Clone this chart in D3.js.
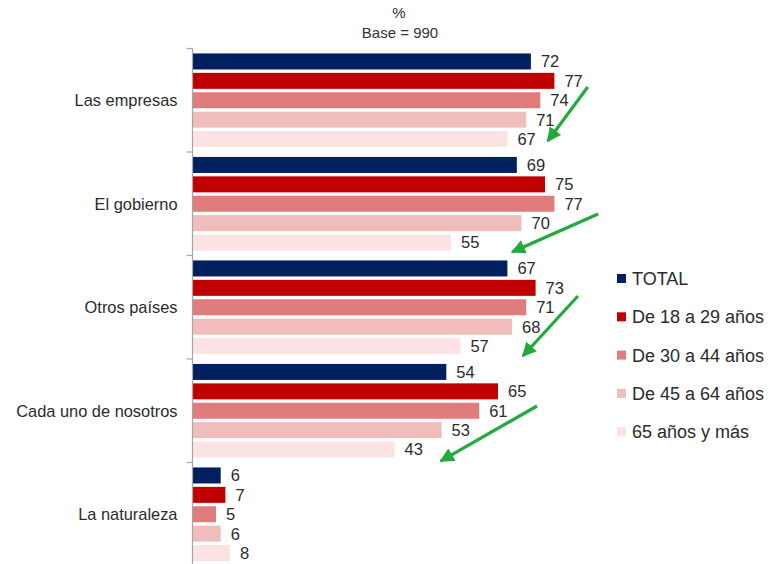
<!DOCTYPE html>
<html>
<head>
<meta charset="utf-8">
<script src="https://cdn.jsdelivr.net/npm/d3@7"></script>
<style>
  html, body { margin: 0; padding: 0; background: #fff; }
  svg { display: block; font-family: "Liberation Sans", Arial, sans-serif; }
</style>
</head>
<body>
<svg id="chart" width="770" height="564"></svg>
<script>
// Categories and age-group series (percent)
const categories = ["Las empresas", "El gobierno", "Otros países", "Cada uno de nosotros", "La naturaleza"];
const seriesNames = ["TOTAL", "De 18 a 29 años", "De 30 a 44 años", "De 45 a 64 años", "65 años y más"];
const total    = [72, 69, 67, 54, 6];
const age18_29 = [77, 75, 73, 65, 7];
const age30_44 = [74, 77, 71, 61, 5];
const age45_64 = [71, 70, 68, 53, 6];
const age65    = [67, 55, 57, 43, 8];
const seriesValues = [total, age18_29, age30_44, age45_64, age65];
const colors = ["#002060", "#c00000", "#e07c7c", "#f0bdbd", "#fbe3e3"];

// Trend arrows: [category index, start value, start fraction in group, end value, end fraction]
const arrows = [
  [0, 84.1, 0.372, 75.6, 0.894],
  [1, 86.3, 0.599, 68.0, 0.966],
  [2, 82.0, 0.391, 70.3, 0.971],
  [3, 73.3, 0.454, 52.8, 0.986]
];

const svg = d3.select("#chart");

const x = d3.scaleLinear().domain([0, 100]).range([192.5, 662.5]);
const y0 = d3.scaleBand().domain(categories).range([48.5, 566]).padding(0);
const y1 = d3.scaleBand().domain(seriesNames).range([0, y0.bandwidth()])
  .paddingInner(0.175).paddingOuter(0.255);

// Header
svg.append("text").attr("x", 399).attr("y", 18).attr("text-anchor", "middle")
  .attr("font-size", 15).attr("fill", "#333").text("%");
svg.append("text").attr("x", 400).attr("y", 37.5).attr("text-anchor", "middle")
  .attr("font-size", 15).attr("fill", "#333").text("Base = 990");

// Bars and value labels
const groups = svg.append("g").selectAll("g").data(categories).join("g")
  .attr("transform", d => `translate(0,${y0(d)})`);

groups.each(function(cat, ci) {
  const g = d3.select(this);
  const rows = seriesNames.map((s, si) => ({ s, si, v: seriesValues[si][ci] }));
  g.selectAll("rect").data(rows).join("rect")
    .attr("x", x(0))
    .attr("y", d => y1(d.s))
    .attr("width", d => x(d.v) - x(0))
    .attr("height", y1.bandwidth())
    .attr("fill", d => colors[d.si]);
  g.selectAll("text.val").data(rows).join("text")
    .attr("class", "val")
    .attr("x", d => x(d.v) + 10)
    .attr("y", d => y1(d.s) + y1.bandwidth() / 2)
    .attr("dy", "0.36em")
    .attr("font-size", 16.5)
    .attr("fill", "#2b2b2b")
    .text(d => d.v);
});

// Vertical category axis
const axis = svg.append("g").attr("transform", `translate(${x(0)},0)`);
axis.append("line").attr("y1", y0.range()[0]).attr("y2", 564)
  .attr("stroke", "#a6a6a6").attr("stroke-width", 1.2);
const boundaries = categories.map(c => y0(c));
axis.selectAll("line.tick").data(boundaries).join("line")
  .attr("class", "tick")
  .attr("x1", -6).attr("x2", 0)
  .attr("y1", d => d).attr("y2", d => d)
  .attr("stroke", "#a6a6a6").attr("stroke-width", 1.2);
axis.selectAll("text").data(categories).join("text")
  .attr("x", -15)
  .attr("y", d => y0(d) + y0.bandwidth() / 2)
  .attr("dy", "0.36em")
  .attr("text-anchor", "end")
  .attr("font-size", 16.4)
  .attr("fill", "#2b2b2b")
  .text(d => d);

// Green trend arrows
const green = "#22aa3c";
svg.append("defs").append("marker")
  .attr("id", "head").attr("viewBox", "0 0 10 10")
  .attr("refX", 9).attr("refY", 5)
  .attr("markerWidth", 4.5).attr("markerHeight", 4.5)
  .attr("markerUnits", "strokeWidth")
  .attr("orient", "auto")
  .append("path").attr("d", "M0,0 L10,5 L0,10 Z").attr("fill", green);

svg.append("g").selectAll("line").data(arrows).join("line")
  .attr("x1", d => x(d[1]))
  .attr("y1", d => y0(categories[d[0]]) + d[2] * y0.bandwidth())
  .attr("x2", d => x(d[3]))
  .attr("y2", d => y0(categories[d[0]]) + d[4] * y0.bandwidth())
  .attr("stroke", green).attr("stroke-width", 3.2)
  .attr("marker-end", "url(#head)");

// Legend
const legend = svg.append("g").attr("transform", "translate(617,278.5)");
const items = legend.selectAll("g").data(seriesNames).join("g")
  .attr("transform", (d, i) => `translate(0,${i * 38.3})`);
items.append("rect").attr("x", 0).attr("y", -4.5).attr("width", 9).attr("height", 9)
  .attr("fill", (d, i) => colors[i]);
items.append("text").attr("x", 15).attr("y", 0).attr("dy", "0.36em")
  .attr("font-size", 18).attr("fill", "#2b2b2b").text(d => d);
</script>
</body>
</html>
